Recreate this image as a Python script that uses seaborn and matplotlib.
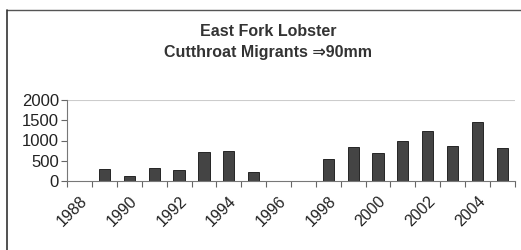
import matplotlib
matplotlib.use("Agg")
from matplotlib import pyplot as plt
from matplotlib.lines import Line2D
import seaborn as sns
import pandas as pd
import numpy as np

years = [str(y) for y in range(1988, 2006)]
migrants = [0, 290, 130, 320, 270, 720, 740, 210, 0, 0,
            540, 840, 700, 1000, 1235, 865, 1450, 815]
year_labels = ["1988", "1990", "1992", "1994", "1996", "1998", "2000", "2002", "2004"]
y_ticks = [0, 500, 1000, 1500, 2000]

sns.set_style("white")
plt.rcParams["font.family"] = ["Liberation Sans", "DejaVu Sans"]

df = pd.DataFrame({"year": years, "count": migrants})

fig = plt.figure(figsize=(5.21, 2.5), dpi=100)
ax = fig.add_axes([0.129, 0.276, 0.859, 0.324])

sns.barplot(data=df, x="year", y="count", ax=ax, color="#444444",
            edgecolor="#111111", linewidth=0.6, width=0.45, saturation=1)

ax.set_xlim(-0.5, len(years) - 0.5)
ax.set_ylim(0, 2000)
ax.set_yticks(y_ticks)
ax.set_yticklabels([str(v) for v in y_ticks], fontsize=12, color="#222222")
ax.axhline(2000, color="#cccccc", linewidth=0.8, zorder=0)

# tick marks at category boundaries, labels at every other category
ax.set_xticks(np.arange(-0.5, len(years), 1.0))
ax.set_xticklabels([])
label_pos = [years.index(y) for y in year_labels]
ax.set_xticks(label_pos, minor=True)
ax.set_xticklabels(year_labels, minor=True, rotation=45, ha="right",
                   rotation_mode="anchor", fontsize=11.5, color="#222222")
ax.tick_params(axis="x", which="major", bottom=True, direction="out",
               length=4, width=0.8, color="#666666")
ax.tick_params(axis="x", which="minor", bottom=True, length=0, pad=9)
ax.tick_params(axis="y", left=True, direction="out", length=4, width=0.8,
               color="#666666", pad=2)

ax.set_xlabel("")
ax.set_ylabel("")
for side in ["top", "right"]:
    ax.spines[side].set_visible(False)
for side in ["left", "bottom"]:
    ax.spines[side].set_color("#777777")
    ax.spines[side].set_linewidth(0.8)

fig.text(0.514, 0.875, "East Fork Lobster", ha="center", va="center",
         fontsize=11.5, fontweight="bold", color="#333333")
fig.text(0.514, 0.788, "Cutthroat Migrants \u21d290mm", ha="center", va="center",
         fontsize=11.5, fontweight="bold", color="#333333")

# chart frame (top and left edges visible in the scan)
fig.add_artist(Line2D([0.013, 1.0], [0.96, 0.96], color="#555555", linewidth=1.0))
fig.add_artist(Line2D([0.013, 0.013], [0.0, 0.96], color="#333333", linewidth=1.2))

fig.savefig("out.png", dpi=100)
